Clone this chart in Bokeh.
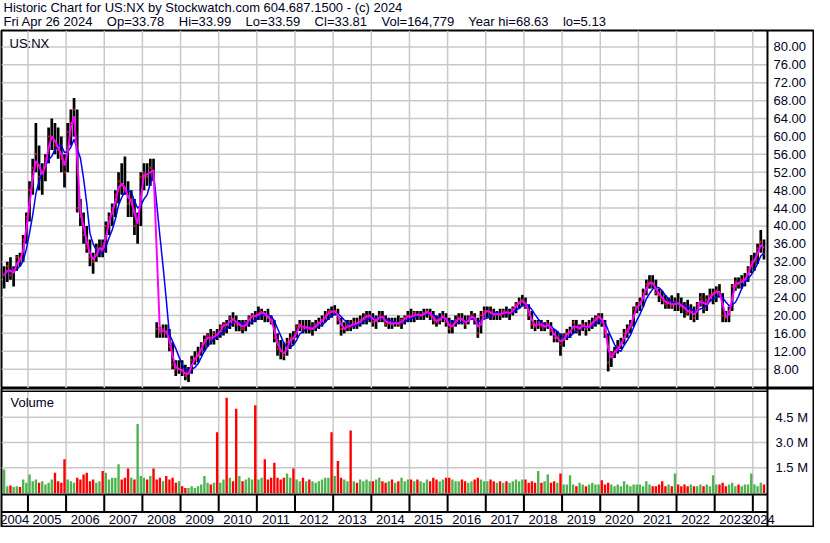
import numpy as np
import pandas as pd
from bokeh.plotting import figure
from bokeh.layouts import column
from bokeh.models import ColumnDataSource, Range1d, Span
from bokeh.core.properties import value
from bokeh.embed import file_html
from bokeh.resources import INLINE

# ---------------- data (monthly, May 2004 .. Apr 2024) ----------------
months = pd.date_range("2004-05-01", "2024-04-01", freq="MS")

high = [
    31, 32, 33, 31, 33.5, 34, 38, 43,
    50, 55, 63, 58, 54, 56, 62, 64, 63, 62, 60, 56,
    63, 66, 68.6, 66, 46, 43, 40, 37, 34, 36, 37, 37,
    41, 43, 45, 48, 52, 54, 55.5, 50, 48, 46, 43, 52,
    54, 54, 55, 55, 18.5, 17.5, 18, 18, 17, 14, 10, 10,
    10, 9, 8.5, 11, 12, 13, 14, 15.5, 16, 17, 16.5, 17,
    18, 18.5, 19, 20, 20.7, 20, 19, 19, 19, 20, 20.5, 21,
    22, 21.5, 21, 21.5, 20, 19, 16, 14.5, 14, 15, 16, 16.5,
    18, 19, 19, 19, 19, 18.5, 19, 19.5, 20, 21, 21.5, 22,
    22.3, 21.5, 19.5, 18.5, 19, 19, 19.5, 19.5, 20, 20.5, 21, 21,
    20.5, 20, 21, 21, 20, 19.5, 19.5, 19.5, 20, 19.5, 20, 21,
    21.5, 21, 21, 21, 21.5, 21.5, 21.5, 21, 20, 20.5, 21, 20.5,
    19.5, 19, 20, 20.5, 20.5, 20, 20, 21, 20.5, 19.5, 21, 22,
    22, 22, 21.5, 21, 21.5, 21.5, 22, 21.5, 22, 23, 24, 24.6,
    24, 22.5, 21, 19, 19, 19, 18.5, 19, 18.5, 17, 16.5, 16,
    16, 17, 17.5, 19, 19, 18, 19, 18.5, 19, 19.5, 20, 20.5,
    20.5, 19, 16, 12, 13, 14.5, 15, 17, 18, 19, 22, 23,
    24, 26, 28, 29, 29, 28, 26, 25.5, 24.5, 24, 24.5, 24,
    25, 24, 23, 23.5, 22.5, 22, 23, 25, 25, 24.5, 26, 26,
    26.5, 27, 25, 21, 22, 27, 28.5, 28.5, 29, 29.5, 31, 33.5,
    34, 36, 39.1, 37,
]
low = [
    26, 27.5, 28, 26.5, 30, 31, 32, 36,
    41, 47, 52, 48, 47, 50, 54, 57, 56, 55, 52, 48.6,
    52, 58, 60, 43, 40, 36, 34, 31, 29.3, 32, 33, 33,
    34, 38, 40, 42, 45, 47, 47, 42, 42, 38, 36, 40,
    48, 49, 49, 50, 15, 15, 15, 15, 12, 8, 6.5, 7,
    6.5, 5.5, 5.13, 7, 9, 9.5, 11, 12, 13, 13.5, 13.5, 14.5,
    15, 15.5, 16, 17, 17.5, 16.5, 16.5, 16, 16.5, 17.5, 18, 18.5,
    19, 19, 18.5, 18.5, 18, 14, 11, 10.2, 10, 11, 12.5, 13.5,
    15, 16.5, 16, 16, 16, 15.5, 16.5, 17, 17.5, 18.5, 19, 19.5,
    20, 18, 15.5, 16, 16.5, 16.5, 17, 17, 17.5, 18, 18, 18.5,
    17.5, 17, 18.5, 18.5, 17.5, 17, 17, 17.5, 17.5, 17, 18, 18.5,
    18.5, 18.5, 19, 19, 19, 19.5, 19, 18, 17.5, 18, 18.5, 17.5,
    16, 16, 17.5, 18, 18, 17, 18, 19, 18, 15, 16, 19.5,
    19.5, 19, 19, 19, 19, 19.5, 19.5, 19, 20, 20.5, 21.5, 22,
    21.5, 19, 17, 16.5, 17, 16.5, 16.5, 17, 15.5, 14, 14, 11,
    13, 14.5, 15, 16, 16, 15.5, 16.5, 15.5, 16.5, 17, 17.5, 18,
    17.5, 15, 7.5, 8.5, 10.5, 11.5, 12.5, 13.5, 15, 16, 17.5, 20.5,
    21, 22, 24.5, 26, 26, 24.5, 23, 22.5, 21.5, 21.5, 21.5, 21,
    21, 20.5, 19.5, 20, 19, 18.5, 19, 22, 20.5, 21, 23, 22.5,
    23, 24, 18.5, 18.5, 18.5, 21, 25.5, 26, 26, 26.5, 27.5, 29.5,
    30, 31.5, 34, 32.5,
]
close = [
    29, 31, 29, 30, 33, 32, 37, 42,
    48, 53, 56, 51, 52, 55, 60, 60, 58, 57, 55, 52,
    61, 63, 66, 44, 42, 38, 35, 33, 32, 35, 35, 34.5,
    40, 42, 44, 47, 50, 49, 48, 45, 46, 40, 41, 51,
    52, 51, 53, 52, 17, 16, 17, 16, 13, 9, 8, 8,
    7.5, 6.5, 7.5, 10, 10.5, 11.5, 13.5, 14.5, 15.5, 14.5, 16, 15.5,
    17.5, 18, 17.8, 19.5, 19, 18, 18, 17, 18.5, 19.5, 20, 19.8,
    20.5, 20.8, 20, 19.5, 18.5, 15, 12.5, 12, 11, 14, 15, 14.8,
    17.5, 18, 17, 17.5, 17, 17, 18, 18.5, 19, 20, 21, 20.8,
    21, 19, 17, 17, 18, 17.5, 18.5, 18, 19, 19.5, 20, 20,
    18.5, 19, 20, 19.5, 18, 18.5, 18, 18.5, 18, 19, 19.5, 20,
    19.5, 20.5, 20, 20, 20.5, 21, 20, 19, 18.5, 19.5, 20, 18.5,
    17, 18, 19, 19.5, 19, 18, 19.5, 20, 19, 16, 20, 21,
    21, 20.5, 20, 20.5, 20, 21, 20.5, 20.5, 21.5, 22.5, 23, 23.5,
    22, 20, 18, 17.5, 18.5, 17.5, 17.5, 18.2, 16.5, 15, 15, 13.5,
    15.5, 16, 16.5, 18.5, 16.5, 17.5, 18, 17, 18, 18.5, 19.5, 20,
    18.5, 16, 9.5, 11.5, 12, 13, 14, 16, 17, 18, 21.5, 22,
    23, 25, 27, 27.5, 27, 25, 24.5, 23.5, 22.5, 23, 22, 23,
    22.5, 22, 21.5, 20.5, 21, 19.5, 22.5, 24, 21.5, 23.5, 24.5, 25,
    25.5, 25, 20, 19.5, 21, 26.5, 27.5, 27, 28, 28, 30.5, 32,
    32.5, 35, 36.5, 33.81,
]
volume_m = [
    1.4, 0.4, 0.45, 0.35, 0.4, 0.35, 0.8, 0.6,
    1.1, 0.7, 0.8, 0.6, 0.7, 0.5, 0.6, 0.8, 1.2, 0.7, 0.6, 2.0,
    0.8, 0.7, 0.6, 0.9, 0.8, 1.1, 1.2, 0.7, 0.8, 0.6, 0.7, 1.3,
    1.2, 0.8, 0.9, 0.9, 1.7, 0.8, 0.9, 1.45, 0.9, 0.8, 4.1, 1.0,
    0.9, 0.8, 1.0, 1.45, 0.8, 0.9, 0.7, 1.0, 0.8, 0.9, 0.6, 0.7,
    0.4, 0.3, 0.3, 0.4, 0.3, 0.4, 0.5, 1.0, 0.6, 0.5, 0.6, 3.6,
    0.6, 0.8, 5.65, 0.9, 0.7, 5.0, 1.0, 0.7, 0.8, 0.9, 0.8, 5.2,
    0.8, 0.9, 2.0, 0.8, 0.9, 1.8, 0.9, 0.8, 0.9, 1.15, 0.9, 1.45,
    0.8, 0.7, 0.9, 0.7, 0.8, 0.7, 0.6, 0.7, 0.8, 0.9, 0.9, 3.6,
    1.0, 1.9, 0.9, 0.8, 0.7, 3.7, 0.7, 0.6, 0.8, 0.7, 0.8, 0.7,
    0.7, 0.8, 0.9, 0.7, 0.6, 0.7, 0.8, 0.6, 0.7, 0.9, 0.7, 0.8,
    0.8, 0.7, 0.8, 0.7, 0.6, 0.8, 0.7, 0.9, 0.8, 0.7, 0.8, 0.9,
    0.9, 0.8, 0.7, 0.7, 0.8, 0.7, 0.6, 0.7, 0.8, 0.9, 0.8, 0.7,
    0.7, 0.8, 0.7, 0.6, 0.7, 0.6, 0.7, 0.6, 0.7, 0.8, 0.7, 0.8,
    0.8, 0.6, 0.7, 0.6, 1.3, 0.6, 0.7, 1.1, 0.6, 0.7, 0.6, 1.15,
    0.5, 0.5, 1.05, 0.5, 0.4, 0.6, 0.5, 0.4, 0.5, 0.6, 0.5, 0.5,
    0.75, 0.5, 0.6, 0.5, 0.4, 0.5, 0.4, 0.7, 0.5, 0.4, 0.5, 0.5,
    0.5, 0.4, 0.7, 0.5, 0.4, 0.4, 0.5, 0.7, 0.4, 0.5, 0.4, 1.15,
    0.5, 0.4, 0.5, 0.4, 0.5, 0.4, 0.4, 0.5, 0.4, 0.5, 0.4, 1.05,
    0.5, 0.5, 0.6, 0.4, 0.5, 0.6, 0.4, 0.5, 0.4, 0.5, 0.5, 1.15,
    0.5, 0.4, 0.6, 0.5,
]

price_ticks = [8, 12, 16, 20, 24, 28, 32, 36, 40, 44, 48, 52, 56, 60, 64, 68, 72, 76, 80]
price_labels = ["%.2f" % t for t in price_ticks]
vol_ticks = [1.5, 3.0, 4.5]
vol_labels = ["1.5 M", "3.0 M", "4.5 M"]
years = list(range(2004, 2025))

symbol = "US:NX"
header1 = "Historic Chart for US:NX by Stockwatch.com 604.687.1500 - (c) 2024"
sep = "\u00a0\u00a0\u00a0 "
header2 = sep.join(["Fri Apr 26 2024", "Op=33.78", "Hi=33.99", "Lo=33.59",
                    "Cl=33.81", "Vol=164,779", "Year hi=68.63", "lo=5.13"])

# ---------------- derived ----------------
t_start = months.year + (months.month - 1) / 12.0
xc = np.asarray(t_start + 1 / 24.0)
cl = pd.Series(close, dtype=float)
ma_fast = cl.rolling(2, min_periods=1).mean()
ma_slow = cl.rolling(5, min_periods=1).mean()
up = np.r_[True, np.diff(cl.values) >= 0]
vol_colors = np.where(up, "#4fb34f", "#ff0000")

src = ColumnDataSource(dict(x=xc, high=high, low=low, close=close,
                            fast=ma_fast, slow=ma_slow, vol=volume_m, vcol=vol_colors))

# layout constants (decimal years / axis units)
X0, X1 = 2004.307, 2025.59       # visible window
XAX = 2024.384                   # right axis line
PY0, PY1 = 3.68, 83.68           # price panel range
VY0, VY1 = -1.99, 6.20           # volume panel (+ date band) range
V_TOP2, V_BASE, V_BAND, V_LAB = 6.03, -0.087, -1.125, -1.59
FONT = value("Liberation Sans")
GRID = "#c8c8c8"
TXT = "#000022"
W = 814

# ---------------- header ----------------
h = figure(width=W, height=29, x_range=Range1d(0, 1), y_range=Range1d(0, 1),
           output_backend="svg", toolbar_location=None,
           x_axis_location=None, y_axis_location=None, min_border=0)
h.grid.visible = False
h.outline_line_color = None
h.text(x=[0], y=[1], text=[header1], x_offset=2, y_offset=-1, text_baseline="top",
       text_font=FONT, text_font_size="13px", text_color=TXT)
h.text(x=[0], y=[1], text=[header2], x_offset=2, y_offset=13, text_baseline="top",
       text_font=FONT, text_font_size="13px", text_color=TXT)

# ---------------- price panel ----------------
p = figure(width=W, height=359, x_range=Range1d(X0, X1), y_range=Range1d(PY0, PY1),
           output_backend="svg", toolbar_location=None,
           x_axis_location=None, y_axis_location=None,
           min_border_left=1, min_border_right=1, min_border_top=1, min_border_bottom=0)
p.grid.visible = False
p.outline_line_color = "black"
p.outline_line_width = 2

p.segment(x0=X0, x1=XAX, y0=price_ticks, y1=price_ticks, line_color=GRID, line_width=1.5)
yrs_in = [y for y in years if y > X0]
p.segment(x0=yrs_in, x1=yrs_in, y0=PY0, y1=PY1, line_color=GRID, line_width=1.5)

p.vbar(x="x", bottom="low", top="high", width=0.85 / 12.0, source=src,
       fill_color="black", line_color=None)
p.rect(x="x", y="close", width=0.5 / 12.0, height=2, height_units="screen",
       source=src, fill_color="#ff0000", line_color=None)
p.line(x="x", y="slow", source=src, line_color="#0000ff", line_width=1.5)
p.line(x="x", y="fast", source=src, line_color="#ff00ff", line_width=2)

p.add_layout(Span(location=XAX, dimension="height", line_color="black", line_width=2))
p.text(x=XAX, y=price_ticks, text=price_labels, x_offset=6, text_baseline="middle",
       text_font=FONT, text_font_size="13px", text_color=TXT)
p.text(x=[X0], y=[PY1], text=[symbol], x_offset=8, y_offset=5, text_baseline="top",
       text_font=FONT, text_font_size="13px", text_color=TXT)

# ---------------- volume panel + date band ----------------
v = figure(width=W, height=139, x_range=p.x_range, y_range=Range1d(VY0, VY1),
           output_backend="svg", toolbar_location=None,
           x_axis_location=None, y_axis_location=None,
           min_border_left=1, min_border_right=1, min_border_top=0, min_border_bottom=1)
v.grid.visible = False
v.outline_line_color = "black"
v.outline_line_width = 2

v.segment(x0=X0, x1=XAX, y0=vol_ticks, y1=vol_ticks, line_color=GRID, line_width=1.5)
v.segment(x0=yrs_in, x1=yrs_in, y0=V_BASE, y1=V_TOP2, line_color=GRID, line_width=1.5)
v.vbar(x="x", top="vol", bottom=0, width=0.75 / 12.0, source=src,
       fill_color="vcol", line_color=None)

v.segment(x0=X0, x1=XAX, y0=V_TOP2, y1=V_TOP2, line_color="black", line_width=1.5)
v.segment(x0=X0, x1=XAX, y0=V_BASE, y1=V_BASE, line_color="black", line_width=2)
v.segment(x0=X0, x1=XAX, y0=V_BAND, y1=V_BAND, line_color="black", line_width=2)
v.segment(x0=yrs_in, x1=yrs_in, y0=V_BASE, y1=V_BAND, line_color="black", line_width=2)
v.add_layout(Span(location=XAX, dimension="height", line_color="black", line_width=2))

lab_x = [(max(y, X0) + min(y + 1, XAX)) / 2.0 for y in years]
v.text(x=lab_x, y=V_LAB, text=[str(y) for y in years], text_align="center",
       text_baseline="middle", text_font=FONT, text_font_size="13px", text_color=TXT)
v.text(x=XAX, y=vol_ticks, text=vol_labels, x_offset=8, text_baseline="middle",
       text_font=FONT, text_font_size="13px", text_color=TXT)
v.text(x=[X0], y=[VY1], text=["Volume"], x_offset=9, y_offset=6, text_baseline="top",
       text_font=FONT, text_font_size="13px", text_color=TXT)

layout = column(h, p, v, spacing=0)
open("out.html", "w").write(file_html(layout, INLINE))
